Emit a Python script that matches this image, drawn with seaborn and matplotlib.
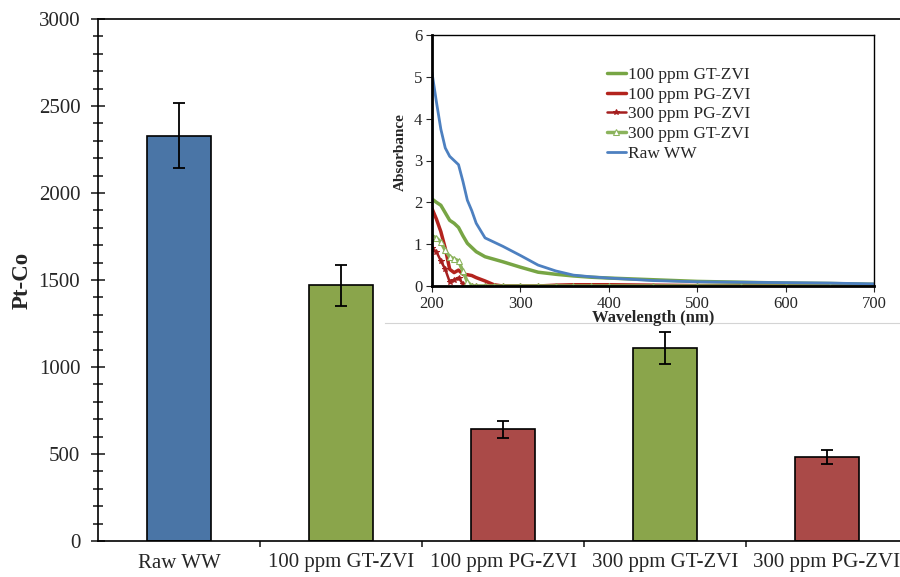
import matplotlib
matplotlib.use("Agg")
import matplotlib.pyplot as plt
import numpy as np
import pandas as pd
import seaborn as sns
from matplotlib.ticker import MultipleLocator, FixedLocator

# main bar chart data
categories = ["Raw WW", "100 ppm GT-ZVI", "100 ppm PG-ZVI", "300 ppm GT-ZVI", "300 ppm PG-ZVI"]
pt_co = [2330, 1470, 642, 1110, 483]
pt_co_err = [185, 118, 50, 92, 40]
bar_colors = ["#4a75a6", "#8aa54b", "#aa4a48", "#8aa54b", "#aa4a48"]

# inset absorbance spectra
wavelength = [200, 205, 210, 215, 220, 225, 230, 235, 240, 245, 250, 260, 270,
              280, 300, 320, 340, 360, 380, 400, 450, 500, 550, 600, 650, 700]
raw_ww = [5.1, 4.4, 3.75, 3.3, 3.1, 3.0, 2.9, 2.5, 2.05, 1.8, 1.5, 1.15, 1.05,
          0.95, 0.73, 0.5, 0.36, 0.26, 0.22, 0.19, 0.13, 0.10, 0.09, 0.08, 0.07, 0.05]
gt100 = [2.08, 2.0, 1.93, 1.75, 1.57, 1.5, 1.4, 1.2, 1.02, 0.92, 0.82, 0.7, 0.64,
         0.58, 0.45, 0.33, 0.28, 0.24, 0.21, 0.19, 0.15, 0.11, 0.09, 0.07, 0.06, 0.04]
pg100 = [1.85, 1.6, 1.3, 0.9, 0.4, 0.32, 0.38, 0.28, 0.27, 0.25, 0.2, 0.12, 0.03,
         0.0, 0.0, 0.0, 0.02, 0.03, 0.03, 0.03, 0.02, 0.01, 0.01, 0.0, 0.0, 0.0]
pg300 = [0.9, 0.82, 0.6, 0.4, 0.1, 0.15, 0.2, 0.05, 0.0, 0.0, 0.0, 0.0, 0.0,
         0.0, 0.0, 0.0, 0.0, 0.0, 0.0, 0.0, 0.0, 0.0, 0.0, 0.0, 0.0, 0.0]
gt300 = [1.2, 1.15, 1.05, 0.85, 0.7, 0.65, 0.6, 0.35, 0.1, 0.0, 0.0, 0.0, 0.0,
         0.0, 0.0, 0.0, 0.0, 0.0, 0.0, 0.0, 0.0, 0.0, 0.0, 0.0, 0.0, 0.0]

sns.set_style("white")
plt.rcParams["font.family"] = ["Liberation Serif", "DejaVu Serif"]

fig = plt.figure(figsize=(9, 5.77), dpi=100)
ax = fig.add_axes([98 / 900, 1 - 541 / 577, 810 / 900, 522 / 577])

df = pd.DataFrame({"cat": categories, "val": pt_co})
sns.barplot(data=df, x="cat", y="val", hue="cat", palette=bar_colors, legend=False,
            width=0.4, saturation=1, edgecolor="black", linewidth=1.2, ax=ax)
ax.errorbar(range(len(categories)), pt_co, yerr=pt_co_err, fmt="none",
            ecolor="black", elinewidth=1.3, capsize=4, capthick=1.3)

ax.set_xlim(-0.5, 4.5)
ax.set_ylim(0, 3000)
ax.yaxis.set_major_locator(MultipleLocator(500))
ax.yaxis.set_minor_locator(MultipleLocator(100))
ax.tick_params(axis="y", which="major", direction="inout", length=9.5, width=1.2,
               labelsize=15, left=True, pad=8)
ax.tick_params(axis="y", which="minor", direction="inout", length=6.5, width=1.2, left=True)
ax.xaxis.set_major_locator(FixedLocator([0.5, 1.5, 2.5, 3.5]))
ax.xaxis.set_minor_locator(FixedLocator(range(len(categories))))
ax.set_xticklabels([], minor=False)
ax.set_xticklabels(categories, minor=True)
ax.tick_params(axis="x", which="major", direction="out", length=4.5, width=1.2, bottom=True)
ax.tick_params(axis="x", which="minor", length=0, labelsize=15, pad=9)
ax.set_xlabel("")
ax.set_ylabel("Pt-Co", fontsize=16.5, fontweight="bold", labelpad=4)
for s in ax.spines.values():
    s.set_color("black")
    s.set_linewidth(1.2)

# white backdrop for the inset chart
bg = fig.add_axes([385 / 900, 1 - 323 / 577, 520 / 900, 301 / 577])
bg.set_xticks([])
bg.set_yticks([])
bg.set_facecolor("white")
for s in bg.spines.values():
    s.set_visible(False)
bg.spines["bottom"].set_visible(True)
bg.spines["bottom"].set_color("#d4d4d4")

ins = fig.add_axes([432 / 900, 1 - 286 / 577, 442 / 900, 251 / 577])
series = [
    ("100 ppm GT-ZVI", gt100, "#77a544", None, 2.5),
    ("100 ppm PG-ZVI", pg100, "#b3231d", None, 2.5),
    ("300 ppm PG-ZVI", pg300, "#a51f1f", "*", 1.8),
    ("300 ppm GT-ZVI", gt300, "#8bb35c", "^", 2.5),
    ("Raw WW", raw_ww, "#4d80c0", None, 2.0),
]
for label, vals, color, marker, lw in series:
    sns.lineplot(x=wavelength, y=vals, ax=ins, color=color, linewidth=lw, label=label,
                 marker=marker, markersize=4, markerfacecolor=color if marker == "*" else "white",
                 markeredgecolor=color)

ins.set_xlim(200, 700)
ins.set_ylim(0, 6)
ins.xaxis.set_major_locator(MultipleLocator(100))
ins.yaxis.set_major_locator(MultipleLocator(1))
ins.tick_params(axis="both", which="major", direction="out", length=4, labelsize=12,
                left=True, bottom=True, pad=3)
ins.set_xlabel("Wavelength (nm)", fontsize=12, fontweight="bold", labelpad=-1)
ins.set_ylabel("Absorbance", fontsize=11, fontweight="bold")
ins.yaxis.set_label_coords(-0.058, 0.534)
for s in ins.spines.values():
    s.set_color("black")
    s.set_linewidth(1.0)
ins.spines["left"].set_linewidth(2)
ins.spines["bottom"].set_linewidth(2)
ins.legend(loc="upper left", bbox_to_anchor=(0.38, 0.9), frameon=False, fontsize=12.5,
           handlelength=1.1, handletextpad=0.1, labelspacing=0.2, borderaxespad=0)

fig.savefig("out.png", dpi=100)
